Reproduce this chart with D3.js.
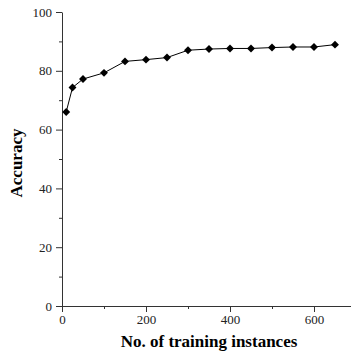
<!DOCTYPE html>
<html>
<head>
<meta charset="utf-8">
<script src="https://cdn.jsdelivr.net/npm/d3@7"></script>
<style>
  body { margin: 0; background: #fff; }
  svg { display: block; }
  .tick text { font-family: "Liberation Serif", "Times New Roman", serif; font-size: 13px; fill: #222; }
  .axis path, .axis line { stroke: #333; }
  .title { font-family: "Liberation Serif", "Times New Roman", serif; font-weight: bold; font-size: 17px; }
</style>
</head>
<body>
<div id="chart"></div>
<script>
// training set sizes and accuracy
var instances = [10, 25, 50, 100, 150, 200, 250, 300, 350, 400, 450, 500, 550, 600, 650];
var accuracy  = [66.0, 74.3, 77.2, 79.3, 83.2, 83.8, 84.5, 87.0, 87.4, 87.6, 87.6, 87.9, 88.1, 88.1, 88.9];
var xTicks = [0, 200, 400, 600];
var yTicks = [0, 20, 40, 60, 80, 100];

var margin = {top: 12, left: 62},
    width  = 294,
    height = 294;

var x = d3.scaleLinear().domain([0, 700]).range([0, width]);
var y = d3.scaleLinear().domain([0, 100]).range([height, 0]);

var svg = d3.select("#chart").append("svg")
    .attr("width", 351)
    .attr("height", 352);

var g = svg.append("g")
    .attr("transform", "translate(" + margin.left + "," + margin.top + ")");

// minor ticks first, then major ticks with labels
g.append("g")
    .attr("class", "axis")
    .attr("transform", "translate(0," + height + ")")
    .call(d3.axisBottom(x).tickValues(d3.range(100, 700, 200)).tickSize(3).tickFormat(""))
    .select(".domain").remove();

g.append("g")
    .attr("class", "axis")
    .call(d3.axisLeft(y).tickValues(d3.range(10, 100, 20)).tickSize(3).tickFormat(""))
    .select(".domain").remove();

g.append("g")
    .attr("class", "axis")
    .attr("transform", "translate(0," + height + ")")
    .call(d3.axisBottom(x).tickValues(xTicks).tickSize(6).tickSizeOuter(0).tickPadding(3));

g.append("g")
    .attr("class", "axis")
    .call(d3.axisLeft(y).tickValues(yTicks).tickSize(6).tickSizeOuter(0).tickPadding(4));

var line = d3.line()
    .x(function(d, i) { return x(instances[i]); })
    .y(function(d) { return y(d); });

g.append("path")
    .datum(accuracy)
    .attr("fill", "none")
    .attr("stroke", "#000")
    .attr("stroke-width", 1)
    .attr("d", line);

g.selectAll(".pt")
    .data(accuracy)
    .enter().append("path")
    .attr("class", "pt")
    .attr("d", d3.symbol().type(d3.symbolDiamond2).size(40))
    .attr("transform", function(d, i) { return "translate(" + x(instances[i]) + "," + y(d) + ")"; })
    .attr("fill", "#000");

svg.append("text")
    .attr("class", "title")
    .attr("x", 209)
    .attr("y", 347)
    .attr("text-anchor", "middle")
    .text("No. of training instances");

svg.append("text")
    .attr("class", "title")
    .attr("transform", "translate(22,163) rotate(-90)")
    .attr("text-anchor", "middle")
    .text("Accuracy");
</script>
</body>
</html>
